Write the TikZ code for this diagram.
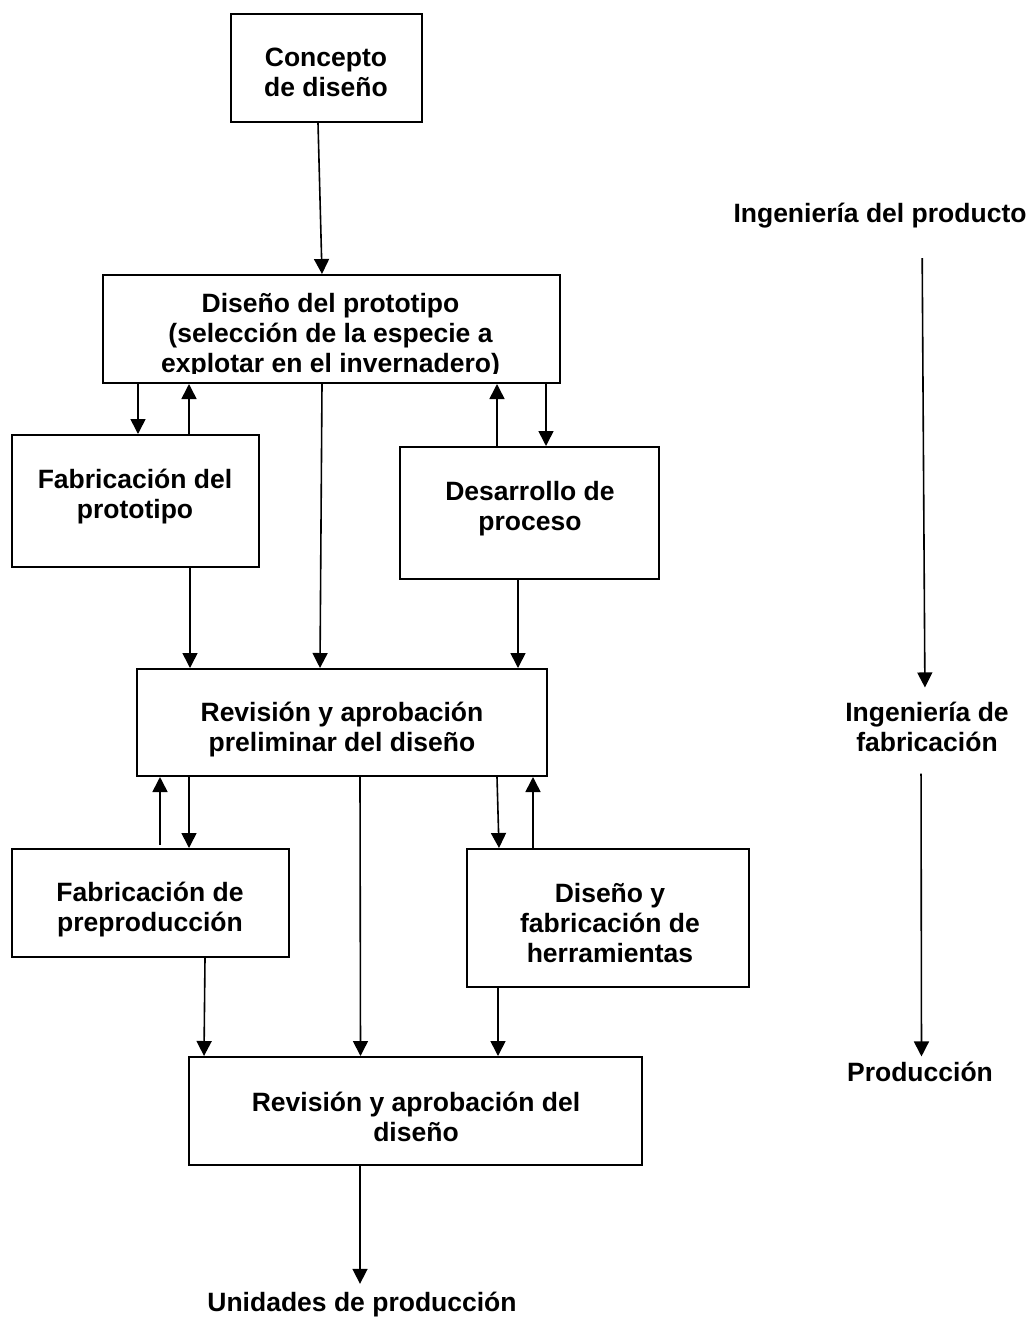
\documentclass[tikz,border=0pt]{standalone}
\usepackage{fontspec}
\setmainfont{Liberation Sans}
\usetikzlibrary{arrows.meta}
\begin{document}
\begin{tikzpicture}[x=1pt,y=-1pt,
  box/.style={draw, line width=2pt, inner sep=0pt},
  txt/.style={font=\fontsize{26.5}{30}\selectfont\bfseries, align=center, inner sep=0pt},
  arr/.style={line width=1.6pt, -{Triangle[length=15pt,width=15pt]}}]
\fill[white] (0,0) rectangle (1033,1320);
% boxes
\node[box, minimum width=191pt, minimum height=108pt] (c) at (326.5,68) {};
\node[txt] (ct) at (326,72.5) {Concepto\\de diseño};
\node[box, minimum width=457pt, minimum height=108pt] (dp) at (331.5,329) {};
\begin{scope}
\clip (103,275) rectangle (560,373);
\node[txt] (dpt) at (330.5,335.5) {Diseño del prototipo\\(selección de la especie a\\explotar en el invernadero)};
\end{scope}
\node[box, minimum width=247pt, minimum height=132pt] (fp) at (135.5,501) {};
\node[txt] (fpt) at (135,496.5) {Fabricación del\\prototipo};
\node[box, minimum width=259pt, minimum height=132pt] (dv) at (529.5,513) {};
\node[txt] (dvt) at (530,508.8) {Desarrollo de\\proceso};
\node[box, minimum width=410pt, minimum height=107pt] (rp) at (342,722.5) {};
\node[txt] (rpt) at (342,730) {Revisión y aprobación\\preliminar del diseño};
\node[box, minimum width=277pt, minimum height=108pt] (fpp) at (150.5,903) {};
\node[txt] (fppt) at (150,910) {Fabricación de\\preproducción};
\node[box, minimum width=282pt, minimum height=138pt] (dh) at (608,918) {};
\node[txt] (dht) at (610,923) {Diseño y\\fabricación de\\herramientas};
\node[box, minimum width=453pt, minimum height=108pt] (rf) at (415.5,1111) {};
\node[txt] (rft) at (416,1116.8) {Revisión y aprobación del\\diseño};
% free labels
\node[txt] (ip) at (880,215.5) {Ingeniería del producto};
\node[txt] (if) at (927,726.5) {Ingeniería de\\fabricación};
\node[txt] (pr) at (920,1071.5) {Producción};
\node[txt] (u) at (362,1304.5) {Unidades de producción};
% connectors
\draw[arr] ([xshift=-8.5pt]c.south) -- ([xshift=-9.5pt]dp.north);
\draw[arr] ([xshift=-193.5pt]dp.south) -- ([xshift=2.5pt]fp.north);
\draw[arr] ([xshift=53.5pt]fp.north) -- ([xshift=-142.5pt]dp.south);
\draw[arr] ([xshift=-32.5pt]dv.north) -- ([xshift=165.5pt]dp.south);
\draw[arr] ([xshift=214.5pt]dp.south) -- ([xshift=16.5pt]dv.north);
\draw[arr] ([xshift=-9.5pt]dp.south) -- ([xshift=-22pt]rp.north);
\draw[arr] ([xshift=54.5pt]fp.south) -- ([xshift=-152pt]rp.north);
\draw[arr] ([xshift=-11.5pt]dv.south) -- ([xshift=176pt]rp.north);
\draw[arr] ([xshift=9.5pt,yshift=3pt]fpp.north) -- ([xshift=-182pt]rp.south);
\draw[arr] ([xshift=-153pt]rp.south) -- ([xshift=38.5pt]fpp.north);
\draw[arr] ([xshift=155pt]rp.south) -- ([xshift=-109pt]dh.north);
\draw[arr] ([xshift=-75pt]dh.north) -- ([xshift=191pt]rp.south);
\draw[arr] ([xshift=18pt]rp.south) -- ([xshift=-55pt]rf.north);
\draw[arr] ([xshift=54.5pt]fpp.south) -- ([xshift=-211.5pt]rf.north);
\draw[arr] ([xshift=-110pt]dh.south) -- ([xshift=82.5pt]rf.north);
\draw[arr, shorten >=8pt] ([xshift=-55.5pt]rf.south) -- ([xshift=-2pt]u.north);
\draw[arr, shorten <=30pt, shorten >=14pt] ([xshift=42pt]ip.south) -- ([xshift=-2pt]if.north);
\draw[arr, shorten <=22pt, shorten >=5pt] ([xshift=-6pt]if.south) -- ([xshift=1.5pt]pr.north);
\end{tikzpicture}
\end{document}
